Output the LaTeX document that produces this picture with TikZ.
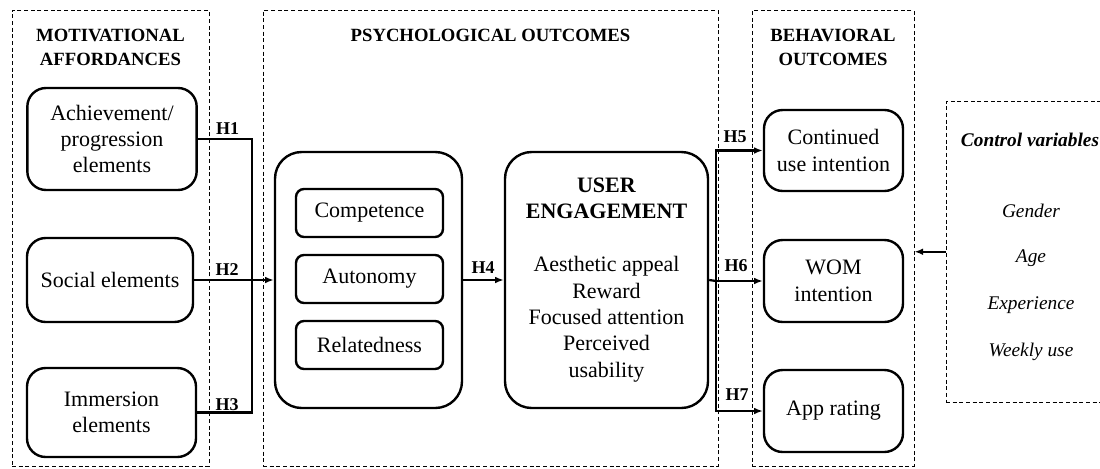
\documentclass[tikz,border=0pt]{standalone}
\usepackage{fontspec}
\setmainfont{Liberation Serif}
\usetikzlibrary{positioning, calc, arrows.meta}

\begin{document}
\begin{tikzpicture}[
    x=0.75pt, y=-0.75pt,
    box/.style={draw, line width=1.8pt, rectangle, rounded corners=14pt,
                align=center, inner sep=0pt, font=\fontsize{16.5}{19.8}\selectfont},
    subbox/.style={box, rounded corners=6pt},
    frame/.style={draw, line width=0.6pt, dash pattern=on 3pt off 2pt,
                  rectangle, inner sep=0pt},
    title/.style={align=center, font=\fontsize{14}{18}\selectfont\bfseries},
    hlab/.style={font=\fontsize{13.5}{16}\selectfont\bfseries},
    ctrl/.style={font=\fontsize{14.5}{17}\selectfont\itshape},
    >={Latex[length=6.5pt,width=5pt]}, line width=1.7pt,
]
\useasboundingbox (0,0) rectangle (1100,468);

% =================================================================
%  DASHED FRAMES
% =================================================================
\node[frame, minimum width=147.75pt, minimum height=341.6pt] (frL) at (110.5, 238.25) {};
\node[frame, minimum width=341.25pt, minimum height=341.6pt] (frM) at (490.5, 238.25) {};
\node[frame, minimum width=121.5pt,  minimum height=341.6pt] (frB) at (833, 238.25)   {};
\node[frame, minimum width=123pt,    minimum height=225.4pt] (frC) at (1028, 251.75) {};

\node[title] (tL) at (110.5, 47) {MOTIVATIONAL\\AFFORDANCES};
\node[title] (tM) at (490.5, 35) {PSYCHOLOGICAL OUTCOMES};
\node[title] (tB) at (833, 47)   {BEHAVIORAL\\OUTCOMES};

% =================================================================
%  MOTIVATIONAL AFFORDANCES
% =================================================================
\node[box, minimum width=127pt, minimum height=76.5pt] (ach) at (112, 139)   {Achievement/\\progression\\elements};
\node[box, minimum width=124.5pt, minimum height=63pt] (soc) at (110, 280)   {Social elements};
\node[box, minimum width=126.75pt, minimum height=66.75pt] (imm) at (111.5, 412.5) {Immersion\\elements};

% =================================================================
%  PSYCHOLOGICAL OUTCOMES
% =================================================================
\node[box, rounded corners=20pt, minimum width=140.25pt, minimum height=192pt] (psy) at (368.5, 280) {};
\node[subbox, minimum width=110.25pt, minimum height=36pt] (com) at (369.5, 213) {Competence};
\node[subbox, minimum width=110.25pt, minimum height=36pt] (aut) at (369.5, 279) {Autonomy};
\node[subbox, minimum width=110.25pt, minimum height=36pt] (rel) at (369.5, 345) {Relatedness};

\node[box, rounded corners=20pt, minimum width=152.25pt, minimum height=192pt] (ue) at (606.5, 280)
    {\textbf{USER}\\\textbf{ENGAGEMENT}\\[19.8pt]Aesthetic appeal\\Reward\\Focused attention\\Perceived\\usability};

% =================================================================
%  BEHAVIORAL OUTCOMES
% =================================================================
\node[box, minimum width=104.25pt, minimum height=60.75pt] (cont) at (833.5, 150.5) {Continued\\use intention};
\node[box, minimum width=104.25pt, minimum height=61.5pt]  (wom)  at (833.5, 281)   {WOM\\intention};
\node[box, minimum width=104.25pt, minimum height=61.5pt]  (app)  at (833.5, 411)   {App rating};

% =================================================================
%  CONTROL VARIABLES
% =================================================================
\node[ctrl, font=\fontsize{14.5}{17}\selectfont\bfseries\itshape] (cv) at (1030, 140) {Control variables};
\node[ctrl] (gen) at (1031, 211) {Gender};
\node[ctrl] (age) at (1031, 258) {Age};
\node[ctrl] (exp) at (1031, 305) {Experience};
\node[ctrl] (wkl) at (1031, 352) {Weekly use};

% =================================================================
%  CONNECTORS
% =================================================================
\coordinate (jL) at (252, 281);
\coordinate (jR) at (716, 281);

\draw (ach.east) -| (jL) |- (imm.east);
\draw[->] (soc.east) -- (psy.west);
\draw[->] (psy.east) -- (ue.west);

\draw (ue.east) -- (jR);
\draw[->] (jR) |- (cont.west);
\draw[->] (jR) -- (wom.west);
\draw[->] (jR) |- (app.west);

\draw[->] (frC.west) -- (frB.east |- frC.west);

\node[hlab] (h1) at (227.5, 129) {H1};
\node[hlab] (h2) at (227, 270)   {H2};
\node[hlab] (h3) at (227, 405)   {H3};
\node[hlab] (h4) at (483, 268)   {H4};
\node[hlab] (h5) at (735, 137)   {H5};
\node[hlab] (h6) at (736, 266)   {H6};
\node[hlab] (h7) at (737, 395)   {H7};

\end{tikzpicture}
\end{document}
